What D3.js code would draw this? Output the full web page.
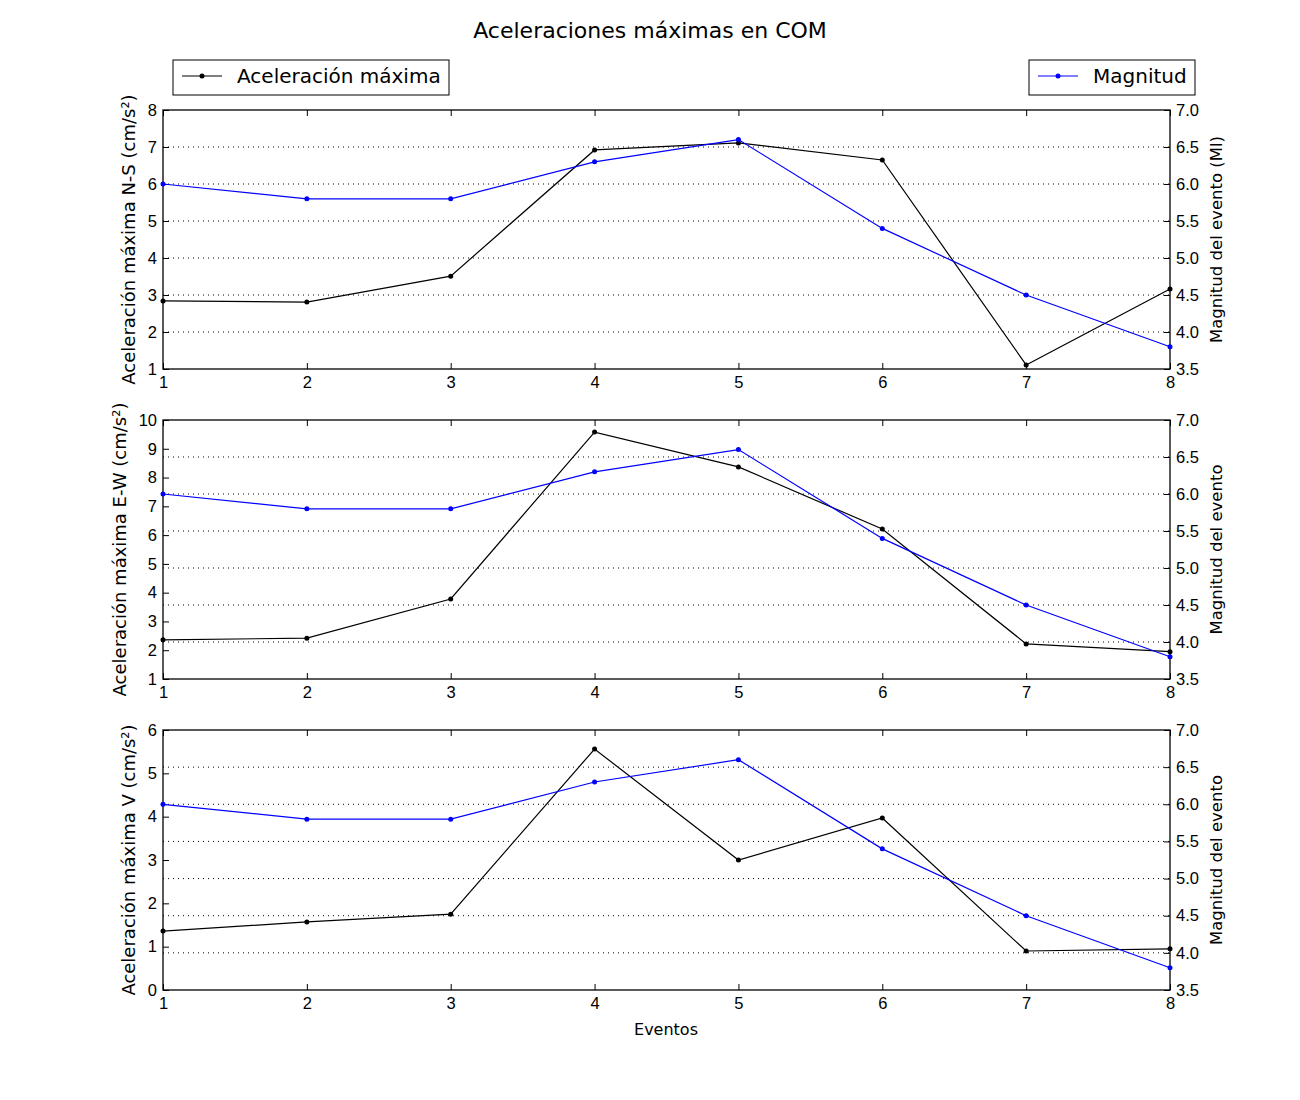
<!DOCTYPE html>
<html>
<head>
<meta charset="utf-8">
<script src="https://cdn.jsdelivr.net/npm/d3@7"></script>
<style>
  body { margin: 0; background: #fff; }
  svg { font-family: "DejaVu Sans", sans-serif; }
</style>
</head>
<body>
<svg id="chart"></svg>
<script>
const w = 1300;
const h = 1100;
const left = 163, right = 1170;

const eventos = [1, 2, 3, 4, 5, 6, 7, 8];
const magnitud = [6.0, 5.8, 5.8, 6.3, 6.6, 5.4, 4.5, 3.8];
const accNS = [2.84, 2.81, 3.51, 6.92, 7.11, 6.65, 1.11, 3.16];
const accEW = [2.36, 2.42, 3.78, 9.58, 8.37, 6.21, 2.22, 1.95];
const accV = [1.36, 1.57, 1.75, 5.56, 3.0, 3.97, 0.9, 0.95];

const panels = [
    { top: 110, bottom: 369, data: accNS, dom: [1, 8], ticks: d3.range(1, 9),
      label: "Aceleración máxima N-S (cm/s²)", rlabel: "Magnitud del evento (Ml)", lx: 135 },
    { top: 420, bottom: 679, data: accEW, dom: [1, 10], ticks: d3.range(1, 11),
      label: "Aceleración máxima E-W (cm/s²)", rlabel: "Magnitud del evento", lx: 126 },
    { top: 730, bottom: 990, data: accV, dom: [0, 6], ticks: d3.range(0, 7),
      label: "Aceleración máxima V (cm/s²)", rlabel: "Magnitud del evento", lx: 135 }
];
const magTicks = [3.5, 4.0, 4.5, 5.0, 5.5, 6.0, 6.5, 7.0];

const svg = d3.select("#chart").attr("width", w).attr("height", h);

svg.append("text")
    .attr("x", 650).attr("y", 38)
    .attr("text-anchor", "middle")
    .style("font-size", "22px")
    .text("Aceleraciones máximas en COM");

const xScale = d3.scaleLinear().domain([1, 8]).range([left, right]);

panels.forEach(p => {
    const yScale = d3.scaleLinear().domain(p.dom).range([p.bottom, p.top]);
    const yMag = d3.scaleLinear().domain([3.5, 7.0]).range([p.bottom, p.top]);
    const g = svg.append("g");

    // grid from right axis
    g.selectAll(".grid")
        .data(magTicks.slice(1, -1))
        .enter().append("line")
        .attr("x1", left).attr("x2", right)
        .attr("y1", d => yMag(d)).attr("y2", d => yMag(d))
        .attr("stroke", "#000").attr("stroke-width", 1)
        .attr("stroke-dasharray", "1,4");

    // x axis bottom (ticks inside)
    const xAxis = d3.axisBottom(xScale).tickValues(eventos).tickSize(-6).tickPadding(7).tickFormat(d3.format("d"));
    g.append("g").attr("transform", `translate(0,${p.bottom})`).call(xAxis)
        .call(a => a.select(".domain").remove())
        .selectAll("text").style("font-size", "16.5px").attr("fill", "#000");
    // x ticks top
    g.append("g").attr("transform", `translate(0,${p.top})`)
        .call(d3.axisTop(xScale).tickValues(eventos).tickSize(-6).tickFormat(""))
        .call(a => a.select(".domain").remove());

    // left axis
    g.append("g").attr("transform", `translate(${left},0)`)
        .call(d3.axisLeft(yScale).tickValues(p.ticks).tickSize(-6).tickPadding(6).tickFormat(d3.format("d")))
        .call(a => a.select(".domain").remove())
        .selectAll("text").style("font-size", "16.5px").attr("fill", "#000");

    // right axis
    g.append("g").attr("transform", `translate(${right},0)`)
        .call(d3.axisRight(yMag).tickValues(magTicks).tickSize(-6).tickPadding(6).tickFormat(d3.format(".1f")))
        .call(a => a.select(".domain").remove())
        .selectAll("text").style("font-size", "16.5px").attr("fill", "#000");

    // frame
    g.append("rect")
        .attr("x", left).attr("y", p.top)
        .attr("width", right - left).attr("height", p.bottom - p.top)
        .attr("fill", "none").attr("stroke", "#000").attr("stroke-width", 1.3);

    // series
    const series = [
        { vals: p.data, sc: yScale, color: "#000" },
        { vals: magnitud, sc: yMag, color: "#0000ff" }
    ];
    series.forEach(s => {
        const line = d3.line().x((d, i) => xScale(eventos[i])).y(d => s.sc(d));
        g.append("path").datum(s.vals)
            .attr("d", line).attr("fill", "none")
            .attr("stroke", s.color).attr("stroke-width", 1.2);
        g.selectAll(null).data(s.vals).enter().append("circle")
            .attr("cx", (d, i) => xScale(eventos[i])).attr("cy", d => s.sc(d))
            .attr("r", 2.5).attr("fill", s.color);
    });

    // labels
    g.append("text")
        .attr("transform", `translate(${p.lx},${(p.top + p.bottom) / 2}) rotate(-90)`)
        .attr("text-anchor", "middle")
        .style("font-size", "18px")
        .text(p.label);
    g.append("text")
        .attr("transform", `translate(${1222},${(p.top + p.bottom) / 2}) rotate(-90)`)
        .attr("text-anchor", "middle")
        .style("font-size", "16.5px")
        .text(p.rlabel);
});

svg.append("text")
    .attr("x", 666).attr("y", 1035)
    .attr("text-anchor", "middle")
    .style("font-size", "16px")
    .text("Eventos");

// legends
const legends = [
    { x: 173, w: 276, label: "Aceleración máxima", color: "#000" },
    { x: 1029, w: 166, label: "Magnitud", color: "#0000ff" }
];
legends.forEach(l => {
    const lg = svg.append("g").attr("transform", `translate(${l.x},60)`);
    lg.append("rect").attr("width", l.w).attr("height", 35)
        .attr("fill", "#fff").attr("stroke", "#000").attr("stroke-width", 1);
    lg.append("line").attr("x1", 9).attr("x2", 49).attr("y1", 16).attr("y2", 16)
        .attr("stroke", l.color).attr("stroke-width", 1.2);
    lg.append("circle").attr("cx", 29).attr("cy", 16).attr("r", 2.5).attr("fill", l.color);
    lg.append("text").attr("x", 64).attr("y", 23)
        .style("font-size", "20px").text(l.label);
});
</script>
</body>
</html>
